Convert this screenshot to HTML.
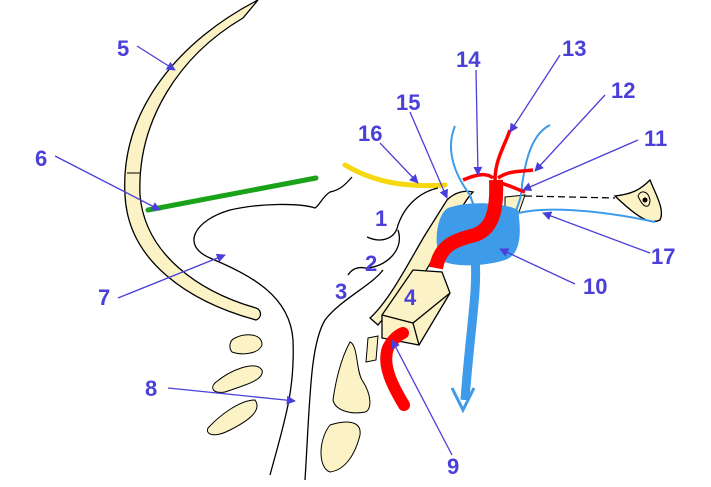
<!DOCTYPE html>
<html><head><meta charset="utf-8"><style>
html,body{margin:0;padding:0;background:#fff;width:711px;height:487px;overflow:hidden}
svg{display:block}
text{font-family:"Liberation Sans",sans-serif;font-weight:bold;font-size:22px;fill:#4a3fd9}
</style></head><body>
<svg width="711" height="487" viewBox="0 0 711 487">
<defs><marker id="a" viewBox="0 0 10 10" refX="9" refY="5" markerWidth="7" markerHeight="7" orient="auto"><path d="M0,0L10,5L0,10z" fill="#4a3fd9"/></marker></defs>
<path d="M258,0 C180,40 120,110 125,195 C128,262 190,302 256,320 C262,318 262,310 256,308 C200,292 145,255 140,195 C137,120 180,55 243,18 Z" fill="#fbf3c5" stroke="#000" stroke-width="1.3"/>
<line x1="127" y1="173" x2="140" y2="173" stroke="#000"/>
<line x1="148" y1="210" x2="316" y2="178" stroke="#1aa31a" stroke-width="5" stroke-linecap="round"/>
<path d="M345,165 C370,180 400,188 445,185" fill="none" stroke="#f5d80f" stroke-width="5" stroke-linecap="round"/>
<path d="M352,177 C345,185 340,190 330,192 C322,197 320,205 315,208 C300,203 260,203 230,210 C195,220 180,245 210,258 C250,275 290,295 293,340 C295,390 285,420 270,475" fill="none" stroke="#000" stroke-width="1.3"/>
<path d="M438,188 C420,192 405,205 398,225 C395,240 380,243 367,237 M398,230 C405,250 385,268 365,268 C355,266 350,272 348,275 M383,270 C372,285 340,300 325,320 C310,345 310,400 305,480" fill="none" stroke="#000" stroke-width="1.3"/>
<path d="M447,200 C455,192 465,190 473,192 C460,205 440,250 420,280 C400,305 385,315 378,325 L370,318 C390,300 410,260 425,235 Z" fill="#fbf3c5" stroke="#000" stroke-width="1.3"/>
<path d="M382,315 L413,270 L442,272 L450,293 L419,345 L382,338 Z" fill="#fbf3c5" stroke="#000" stroke-width="1.3"/>
<path d="M382,315 L413,323 L450,293 M413,323 L419,345" fill="none" stroke="#000" stroke-width="1.3"/>
<path d="M368,338 L378,336 L376,360 L366,362 Z" fill="#fbf3c5" stroke="#000"/>
<path d="M350,342 C358,345 356,370 362,380 C372,395 372,410 365,412 C350,415 335,410 333,400 C335,385 340,360 350,342 Z" fill="#fbf3c5" stroke="#000"/>
<path d="M330,425 C345,420 362,420 360,435 C355,455 345,470 330,472 C318,468 318,440 330,425 Z" fill="#fbf3c5" stroke="#000"/>
<path d="M235,338 C245,333 262,333 262,345 C258,355 240,355 232,352 C228,347 230,340 235,338 Z" fill="#fbf3c5" stroke="#000"/>
<path d="M215,383 C230,370 255,360 262,370 C265,380 245,385 225,392 C213,394 210,388 215,383 Z" fill="#fbf3c5" stroke="#000"/>
<path d="M208,428 C220,415 240,400 255,400 C262,410 250,420 230,430 C215,438 205,435 208,428 Z" fill="#fbf3c5" stroke="#000"/>
<path d="M615,196 C632,194 640,190 650,180 C656,195 665,210 660,220 C650,225 638,218 615,196 Z" fill="#fbf3c5" stroke="#000" stroke-width="1.3"/>
<path d="M638,196 C640,190 648,190 650,200 C650,208 644,210 638,196 Z" fill="none" stroke="#000"/>
<circle cx="645" cy="200" r="2.5" fill="#000"/>
<path d="M505,197 L525,195 L518,215 L505,215 Z" fill="#fbf3c5" stroke="#000"/>
<line x1="525" y1="196" x2="615" y2="198" stroke="#000" stroke-width="1.3" stroke-dasharray="7,4"/>
<path d="M448,208 C470,200 505,203 518,210 C522,235 520,255 505,260 C490,265 460,268 445,262 C432,255 435,215 448,208 Z" fill="#3d9be9"/>
<path d="M475,258 C478,290 470,330 465,400" fill="none" stroke="#3d9be9" stroke-width="9"/>
<path d="M452,388 L463,410 L474,388" fill="none" stroke="#3d9be9" stroke-width="3"/>
<path d="M455,126 C445,150 455,175 470,195 C475,210 478,215 475,218 M550,125 C530,135 525,165 522,185 C522,200 515,210 515,215 M512,215 C540,205 600,210 655,222" fill="none" stroke="#3d9be9" stroke-width="2"/>
<path d="M436,268 C440,245 455,240 475,235 C495,228 497,205 496,180" fill="none" stroke="#f00" stroke-width="14"/>
<path d="M495,180 C495,160 505,145 510,130 M493,178 C485,172 475,175 463,180 M498,178 C510,170 520,172 533,170 M500,183 C510,185 518,190 525,192" fill="none" stroke="#f00" stroke-width="3.5"/>
<path d="M404,405 C392,385 382,365 388,348 C392,340 398,335 403,333" fill="none" stroke="#f00" stroke-width="12" stroke-linecap="round"/>
<g stroke="#4a3fd9" stroke-width="1.3" marker-end="url(#a)">
<line x1="137" y1="46" x2="175" y2="70"/>
<line x1="55" y1="156" x2="160" y2="210"/>
<line x1="118" y1="298" x2="225" y2="255"/>
<line x1="168" y1="388" x2="295" y2="401"/>
<line x1="452" y1="455" x2="392" y2="340"/>
<line x1="575" y1="284" x2="500" y2="249"/>
<line x1="638" y1="140" x2="523" y2="190"/>
<line x1="605" y1="95" x2="535" y2="171"/>
<line x1="560" y1="55" x2="510" y2="132"/>
<line x1="476" y1="70" x2="478" y2="175"/>
<line x1="410" y1="112" x2="447" y2="198"/>
<line x1="380" y1="143" x2="418" y2="183"/>
<line x1="650" y1="253" x2="543" y2="213"/>
</g>
<text x="117" y="56">5</text><text x="35" y="166">6</text><text x="98" y="305">7</text>
<text x="145" y="396">8</text><text x="447" y="474">9</text><text x="583" y="294">10</text>
<text x="644" y="146">11</text><text x="611" y="98">12</text><text x="562" y="56">13</text>
<text x="456" y="67">14</text><text x="396" y="110">15</text><text x="358" y="141">16</text>
<text x="651" y="264">17</text><text x="375" y="226">1</text><text x="365" y="271">2</text>
<text x="335" y="299">3</text><text x="404" y="305">4</text>
</svg>
</body></html>
